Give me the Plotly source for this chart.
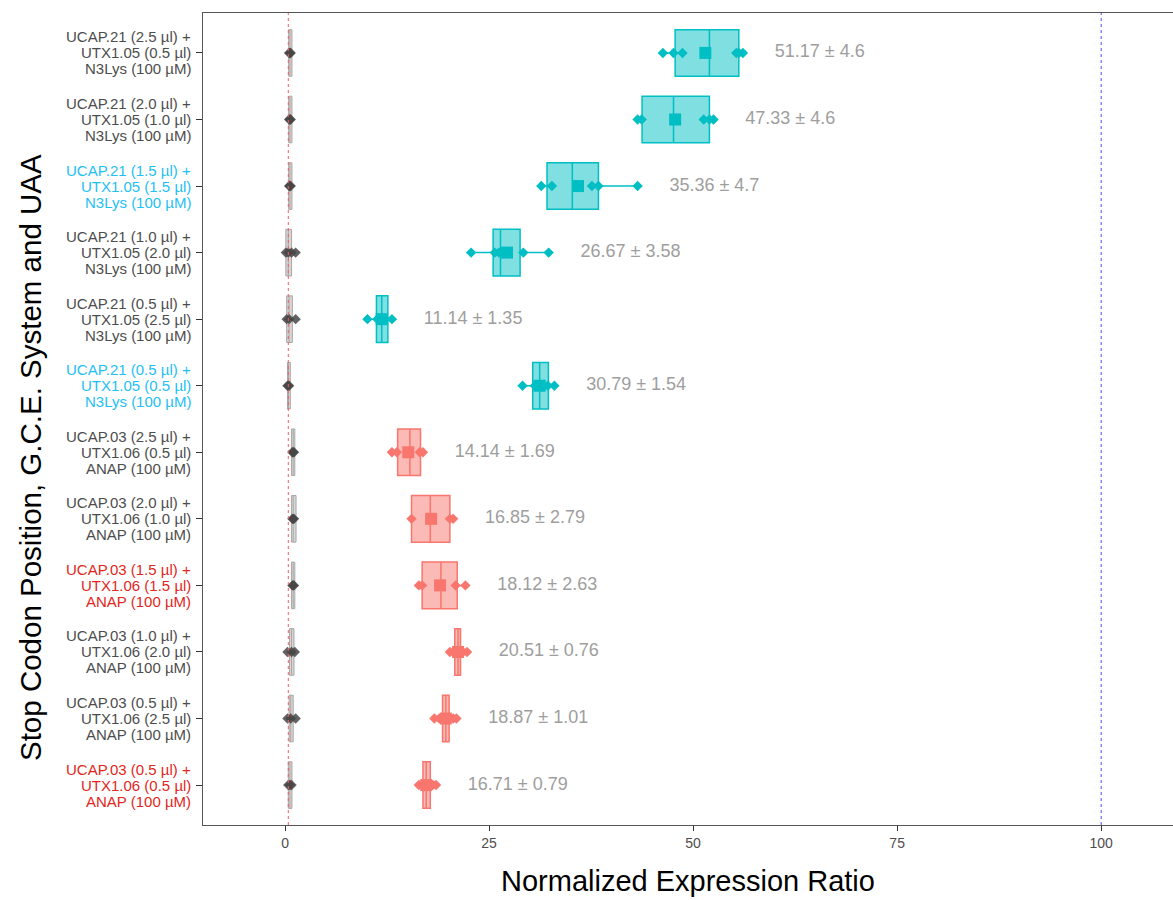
import plotly.graph_objects as go

# ---------------- data ----------------
row_labels = [
    ["UCAP.21 (2.5 µl) +", "UTX1.05 (0.5 µl)", "N3Lys (100 µM)"],
    ["UCAP.21 (2.0 µl) +", "UTX1.05 (1.0 µl)", "N3Lys (100 µM)"],
    ["UCAP.21 (1.5 µl) +", "UTX1.05 (1.5 µl)", "N3Lys (100 µM)"],
    ["UCAP.21 (1.0 µl) +", "UTX1.05 (2.0 µl)", "N3Lys (100 µM)"],
    ["UCAP.21 (0.5 µl) +", "UTX1.05 (2.5 µl)", "N3Lys (100 µM)"],
    ["UCAP.21 (0.5 µl) +", "UTX1.05 (0.5 µl)", "N3Lys (100 µM)"],
    ["UCAP.03 (2.5 µl) +", "UTX1.06 (0.5 µl)", "ANAP (100 µM)"],
    ["UCAP.03 (2.0 µl) +", "UTX1.06 (1.0 µl)", "ANAP (100 µM)"],
    ["UCAP.03 (1.5 µl) +", "UTX1.06 (1.5 µl)", "ANAP (100 µM)"],
    ["UCAP.03 (1.0 µl) +", "UTX1.06 (2.0 µl)", "ANAP (100 µM)"],
    ["UCAP.03 (0.5 µl) +", "UTX1.06 (2.5 µl)", "ANAP (100 µM)"],
    ["UCAP.03 (0.5 µl) +", "UTX1.06 (0.5 µl)", "ANAP (100 µM)"],
]
label_colors = ["#4d4d4d", "#4d4d4d", "#1EC0F5", "#4d4d4d", "#4d4d4d", "#1EC0F5",
                "#4d4d4d", "#4d4d4d", "#E3261C", "#4d4d4d", "#4d4d4d", "#E3261C"]
system = ["N3Lys"] * 6 + ["ANAP"] * 6

mean_label = [51.17, 47.33, 35.36, 26.67, 11.14, 30.79, 14.14, 16.85, 18.12, 20.51, 18.87, 16.71]
sd_label = ["4.6", "4.6", "4.7", "3.58", "1.35", "1.54", "1.69", "2.79", "2.63", "0.76", "1.01", "0.79"]

q1 = [47.8, 43.75, 32.1, 25.5, 11.2, 30.35, 13.8, 15.5, 16.8, 20.8, 19.3, 16.9]
med = [52.0, 47.6, 35.2, 26.4, 11.85, 31.2, 15.3, 17.8, 19.1, 21.2, 19.7, 17.3]
q3 = [55.6, 52.0, 38.4, 28.8, 12.6, 32.27, 16.6, 20.2, 21.1, 21.5, 20.1, 17.8]
lo = [46.3, 43.2, 31.4, 22.8, 10.1, 29.1, 13.1, 15.5, 16.4, 20.2, 18.3, 16.4]
hi = [56.1, 52.5, 43.2, 32.3, 13.1, 33.0, 16.9, 20.6, 22.1, 22.3, 21.0, 18.5]
mean_marker = [51.5, 47.8, 35.9, 27.2, 11.85, 31.2, 15.1, 17.9, 19.0, 21.2, 19.7, 17.3]

points = [
    [46.3, 47.6, 48.7, 55.3, 55.6, 56.1],
    [43.2, 43.7, 51.3, 52.0, 52.5],
    [31.4, 32.7, 37.6, 38.4, 43.2],
    [22.8, 25.7, 26.2, 29.2, 32.3],
    [10.1, 11.3, 11.8, 12.3, 13.1],
    [29.1, 30.6, 31.2, 32.2, 33.0],
    [13.1, 13.7, 16.5, 16.9],
    [15.5, 20.2, 20.6],
    [16.4, 16.8, 20.9, 22.1],
    [20.2, 20.6, 21.3, 21.8, 22.3],
    [18.3, 18.9, 19.5, 20.1, 20.6, 21.0],
    [16.4, 16.9, 17.5, 18.1, 18.5],
]

# control (no-UAA) measurements
ctrl_q1 = [0.45, 0.45, 0.45, 0.1, 0.2, 0.3, 0.8, 0.8, 0.8, 0.55, 0.5, 0.4]
ctrl_med = [0.6, 0.6, 0.6, 0.4, 0.5, 0.4, 1.0, 1.0, 1.0, 0.8, 0.7, 0.6]
ctrl_q3 = [0.85, 0.85, 0.85, 0.8, 0.9, 0.65, 1.2, 1.35, 1.2, 1.1, 1.0, 0.85]
ctrl_points = [
    [0.5, 0.6, 0.7], [0.5, 0.6, 0.7], [0.5, 0.6, 0.7],
    [0.1, 0.4, 0.8, 1.3], [0.2, 0.5, 1.3], [0.3, 0.4, 0.5],
    [0.9, 1.0, 1.1], [0.9, 1.0, 1.1], [0.9, 1.0, 1.1],
    [0.3, 0.8, 1.2], [0.3, 0.7, 1.3], [0.4, 0.6, 0.8],
]

background_level = 0.4
max_level = 100

x_ticks = [0, 25, 50, 75, 100]

# ---------------- styling ----------------
FONT = "Liberation Sans, Arial, sans-serif"
TEAL = "#00BFC4"
SALMON = "#F8766D"
TEAL_FILL = "rgba(0,191,196,0.5)"
SALMON_FILL = "rgba(248,118,109,0.5)"

ypos = list(range(len(row_labels)))

fig = go.Figure()

# control boxes
fig.add_trace(go.Box(
    orientation="h", y=ypos, q1=ctrl_q1, median=ctrl_med, q3=ctrl_q3,
    lowerfence=ctrl_q1, upperfence=ctrl_q3, width=0.7, whiskerwidth=0,
    fillcolor="rgba(180,180,180,0.55)", line=dict(color="#a8a8a8", width=1),
    boxpoints=False, hoverinfo="skip", showlegend=False,
))
cx, cy = [], []
for i, pts in enumerate(ctrl_points):
    cx += pts
    cy += [i] * len(pts)
fig.add_trace(go.Scatter(
    x=cx, y=cy, mode="markers",
    marker=dict(symbol="diamond", size=8, color="rgba(70,70,70,0.85)"),
    showlegend=False, hoverinfo="skip",
))

# experimental boxes
for sysname, color, fill in [("N3Lys", TEAL, TEAL_FILL), ("ANAP", SALMON, SALMON_FILL)]:
    idx = [i for i, s in enumerate(system) if s == sysname]
    fig.add_trace(go.Box(
        orientation="h", y=[ypos[i] for i in idx],
        q1=[q1[i] for i in idx], median=[med[i] for i in idx], q3=[q3[i] for i in idx],
        lowerfence=[lo[i] for i in idx], upperfence=[hi[i] for i in idx],
        width=0.7, whiskerwidth=0, fillcolor=fill, line=dict(color=color, width=1.5),
        boxpoints=False, hoverinfo="skip", showlegend=False,
    ))
    px, py = [], []
    for i in idx:
        px += points[i]
        py += [ypos[i]] * len(points[i])
    fig.add_trace(go.Scatter(
        x=px, y=py, mode="markers",
        marker=dict(symbol="diamond", size=8, color=color),
        showlegend=False, hoverinfo="skip",
    ))
    fig.add_trace(go.Scatter(
        x=[mean_marker[i] for i in idx], y=[ypos[i] for i in idx], mode="markers",
        marker=dict(symbol="square", size=12, color=color),
        showlegend=False, hoverinfo="skip",
    ))

# mean ± sd labels
fig.add_trace(go.Scatter(
    x=[h + 3.9 for h in hi], y=ypos, mode="text",
    text=[f"{m:.2f} ± {s}" for m, s in zip(mean_label, sd_label)],
    textposition="middle right",
    textfont=dict(family=FONT, size=18, color="#9e9e9e"),
    showlegend=False, hoverinfo="skip",
))

annotations = [
    dict(text="Normalized Expression Ratio", xref="paper", yref="paper",
         x=0.5, y=(825 - 881) / 812, xanchor="center", yanchor="middle",
         showarrow=False, font=dict(size=29, color="black")),
    dict(text="Stop Codon Position, G.C.E. System and UAA", xref="paper", yref="paper",
         x=(30 - 203) / 970, y=(825 - 458) / 812, xanchor="center", yanchor="middle",
         textangle=-90, showarrow=False, font=dict(size=29.5, color="black")),
]
# multi-line category labels (tight line spacing)
line_step = 0.24
for i, (lines, c) in enumerate(zip(row_labels, label_colors)):
    for k, ln in enumerate(lines):
        annotations.append(dict(
            text=ln, xref="paper", yref="y", x=(193 - 203) / 970, y=ypos[i] + (k - 1) * line_step,
            xanchor="right", yanchor="middle", showarrow=False,
            font=dict(family=FONT, size=15, color=c),
        ))

fig.update_layout(
    width=1173, height=900,
    margin=dict(l=203, r=0, t=13, b=75),
    paper_bgcolor="white", plot_bgcolor="white",
    boxmode="overlay",
    font=dict(family=FONT),
    shapes=[
        dict(type="line", xref="x", yref="paper", x0=background_level, x1=background_level,
             y0=0, y1=1, line=dict(color="#ff5a5a", width=1, dash="dot")),
        dict(type="line", xref="x", yref="paper", x0=max_level, x1=max_level,
             y0=0, y1=1, line=dict(color="#4a4aff", width=1, dash="dot")),
    ],
    annotations=annotations,
)
fig.update_xaxes(
    range=[-10.05, 108.8], tickvals=x_ticks, ticktext=[str(t) for t in x_ticks],
    showgrid=False, zeroline=False, showline=True, mirror=True,
    linecolor="#555555", linewidth=1, ticks="outside", ticklen=5, tickcolor="#333333",
    tickfont=dict(size=14, color="#4d4d4d"),
)
fig.update_yaxes(
    range=[11.6, -0.6], tickvals=ypos, showticklabels=False,
    showgrid=False, zeroline=False, showline=True, mirror=False,
    linecolor="#555555", linewidth=1, ticks="outside", ticklen=6, tickcolor="#333333",
)

fig.write_html("out.html")
